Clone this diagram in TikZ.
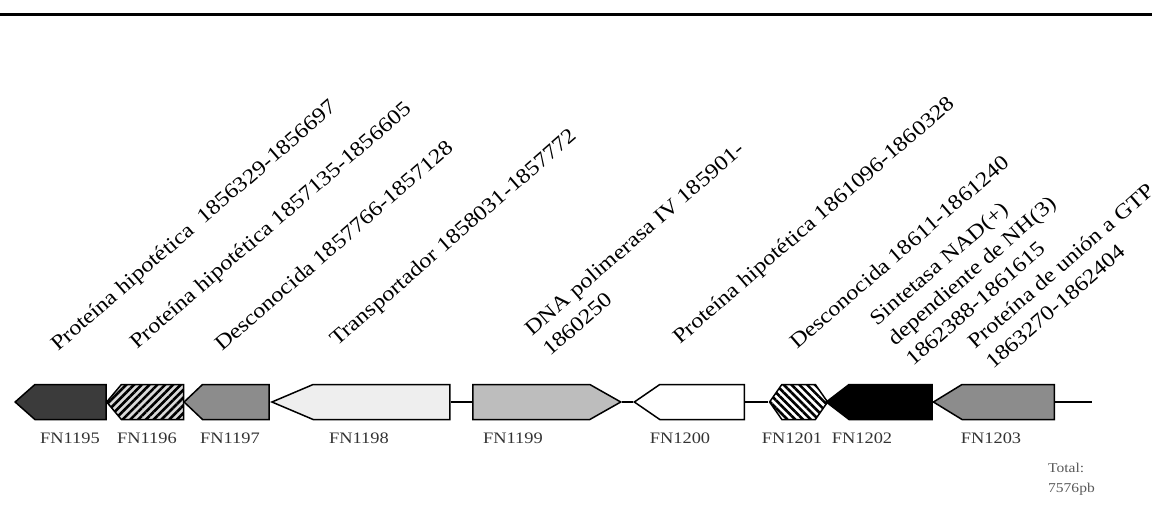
\documentclass[tikz,border=0pt]{standalone}
\usepackage{fontspec}
\newfontfamily\lblfont[FakeStretch=1.15]{Liberation Serif}
\usetikzlibrary{shapes.symbols,patterns.meta}
\definecolor{gdark}{HTML}{3B3B3B}
\definecolor{gmid}{HTML}{8C8C8C}
\definecolor{glight}{HTML}{EEEEEE}
\definecolor{gpale}{HTML}{BDBDBD}

\begin{document}
\begin{tikzpicture}[x=1pt, y=-1pt,
  gene/.style={signal,draw,line width=1.5pt,inner sep=0pt,minimum height=35pt,anchor=west},
  hatch/.style={pattern={Lines[angle=#1,distance=5.5pt,line width=2.6pt]},pattern color=black},
  bb/.style={line width=1.6pt},
  glbl/.style={inner sep=0pt,font=\lblfont\fontsize{16}{18}\selectfont,text=black!80},
  desc/.style={rotate=41,anchor=base west,inner sep=0pt,align=left,
               font=\lblfont\fontsize{21}{27}\selectfont,text=black},
  tot/.style={anchor=base west,inner sep=0pt,align=left,
              font=\lblfont\fontsize{13.5}{19.5}\selectfont,text=black!65}]
\useasboundingbox (0,0) rectangle (1160,511);
\draw[line width=3pt] (0,15) -- (1152,15);
\node[gene,signal to=west,signal pointer angle=83,minimum width=91pt,fill=gdark] (g1195) at (14,402) {};
\node[gene,signal to=west,signal pointer angle=100,minimum width=77pt,preaction={fill=gray!30},hatch=45] (g1196) at (105,402) {};
\node[gene,signal to=west,signal pointer angle=87,minimum width=85pt,fill=gmid] (g1197) at (183,402) {};
\node[gene,signal to=west,signal pointer angle=46,minimum width=178pt,fill=glight] (g1198) at (270,402) {};
\node[gene,signal to=east,signal pointer angle=59,minimum width=148pt,fill=gpale] (g1199) at (472,402) {};
\node[gene,signal to=west,signal pointer angle=69,minimum width=110pt,fill=white] (g1200) at (633,402) {};
\node[gene,signal to=west and east,signal pointer angle=110,minimum width=58pt,preaction={fill=white},hatch=-45] (g1201) at (768,402) {};
\node[gene,signal to=west,signal pointer angle=75,minimum width=106pt,fill=black] (g1202) at (825,402) {};
\node[gene,signal to=west,signal pointer angle=63,minimum width=121pt,fill=gmid] (g1203) at (932,402) {};
\coordinate (tail) at (1092,402);
\draw[bb] (g1198.east) -- (g1199.west);
\draw[bb] (g1199.east) -- (g1200.west);
\draw[bb] (g1200.east) -- (g1201.west);
\draw[bb] (g1203.east) -- (tail);
\foreach \n/\x in {1195/70,1196/147,1197/230,1198/359,1199/513,1200/680,1201/792,1202/862,1203/991}
  {\node[glbl] (l\n) at (\x,438) {FN\n};}
\node[desc] (d1195) at (58,352) {Proteína hipotética~~1856329-1856697};
\node[desc] (d1196) at (137,350) {Proteína hipotética 1857135-1856605};
\node[desc] (d1197) at (222,352) {Desconocida 1857766-1857128};
\node[desc] (d1198) at (337,347) {Transportador 1858031-1857772};
\node[desc] (d1199) at (550,357) {DNA polimerasa IV 185901-\\1860250};
\node[desc] (d1200) at (680,345) {Proteína hipotética 1861096-1860328};
\node[desc] (d1201) at (797,350) {Desconocida 18611-1861240};
\node[desc] (d1202) at (913,367) {Sintetasa NAD(+)\\dependiente de NH(3)\\1862388-1861615};
\node[desc] (d1203) at (993,370) {Proteína de unión a GTP\\1863270-1862404};
\node[tot] (tot) at (1048,492) {Total:\\7576pb};
\end{tikzpicture}
\end{document}
